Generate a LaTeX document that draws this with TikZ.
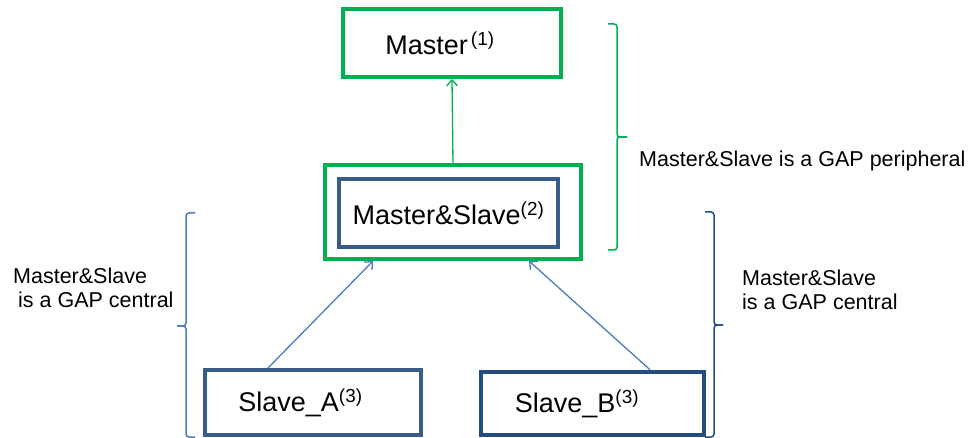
\documentclass[tikz,border=0pt]{standalone}
\usepackage{fontspec}
\setmainfont{Liberation Sans}
\usetikzlibrary{arrows.meta, positioning}
\definecolor{gapgreen}{RGB}{0,176,80}
\definecolor{boxblue}{RGB}{56,93,138}
\definecolor{darkblue}{RGB}{36,76,128}
\definecolor{lineblue}{RGB}{74,126,187}
\tikzset{
  greenbox/.style={draw=gapgreen, line width=4pt, rectangle, inner sep=0pt},
  bluebox/.style={draw=boxblue, line width=4pt, rectangle, inner sep=0pt},
  note/.style={font=\fontsize{21.5}{24}\selectfont, inner sep=0pt},
  brace/.style={line width=1.5pt, rounded corners=3pt},
}

\begin{document}
\begin{tikzpicture}[x=1pt, y=-1pt, every node/.style={font=\fontsize{27}{32}\selectfont},
  >={Straight Barb[length=6pt,width=11pt]}]
\useasboundingbox (0,0) rectangle (975,438);
\node (master) [greenbox, minimum width=218pt, minimum height=68pt] at (452,43) {Master\hspace{3pt}\textsuperscript{(1)}\kern24pt};
\node (msout) [greenbox, minimum width=256pt, minimum height=94pt] at (453,212) {};
\node (ms) [bluebox, minimum width=219pt, minimum height=68pt] at (448.5,213) {Master\&Slave\textsuperscript{(2)}};
\node (sa) [bluebox, minimum width=216pt, minimum height=65pt] at (313,402.5) {Slave\_A\textsuperscript{(3)}\kern25pt};
\node (sb) [bluebox, draw=darkblue, line width=4.5pt, minimum width=223pt, minimum height=63pt] at (592.5,403.5) {Slave\_B\textsuperscript{(3)}\kern31pt};

\draw[->, gapgreen, line width=1.3pt] (msout.north) -- (master.south);
\draw[->, lineblue, line width=1.3pt] ([xshift=-45pt]sa.north) -- ([xshift=-80pt]msout.south);
\draw[->, lineblue, line width=1.3pt] ([xshift=57.5pt]sb.north) -- ([xshift=76pt]msout.south);

% braces
\draw[brace, lineblue] (195,213) -- (186,213) -- (186,326) -- (177,326);
\draw[brace, lineblue] (177,326) -- (186,326) -- (186,437) -- (195,437);
\draw[brace, gapgreen] (608,24) -- (617,24) -- (617,137) -- (627,137);
\draw[brace, gapgreen] (627,137) -- (617,137) -- (617,250) -- (608,250);
\draw[brace, darkblue] (705,212) -- (714,212) -- (714,325) -- (723,325);
\draw[brace, darkblue] (723,325) -- (714,325) -- (714,437) -- (705,437);

\node (central_l) [note, align=left, anchor=west] at (13,288) {Master\&Slave\\\hspace*{5pt}is a GAP central};
\node (periph) [note, anchor=base west] at (639,167) {Master\&Slave is a GAP peripheral};
\node (central_r) [note, align=left, anchor=west] at (742,290) {Master\&Slave\\is a GAP central};
\end{tikzpicture}
\end{document}
